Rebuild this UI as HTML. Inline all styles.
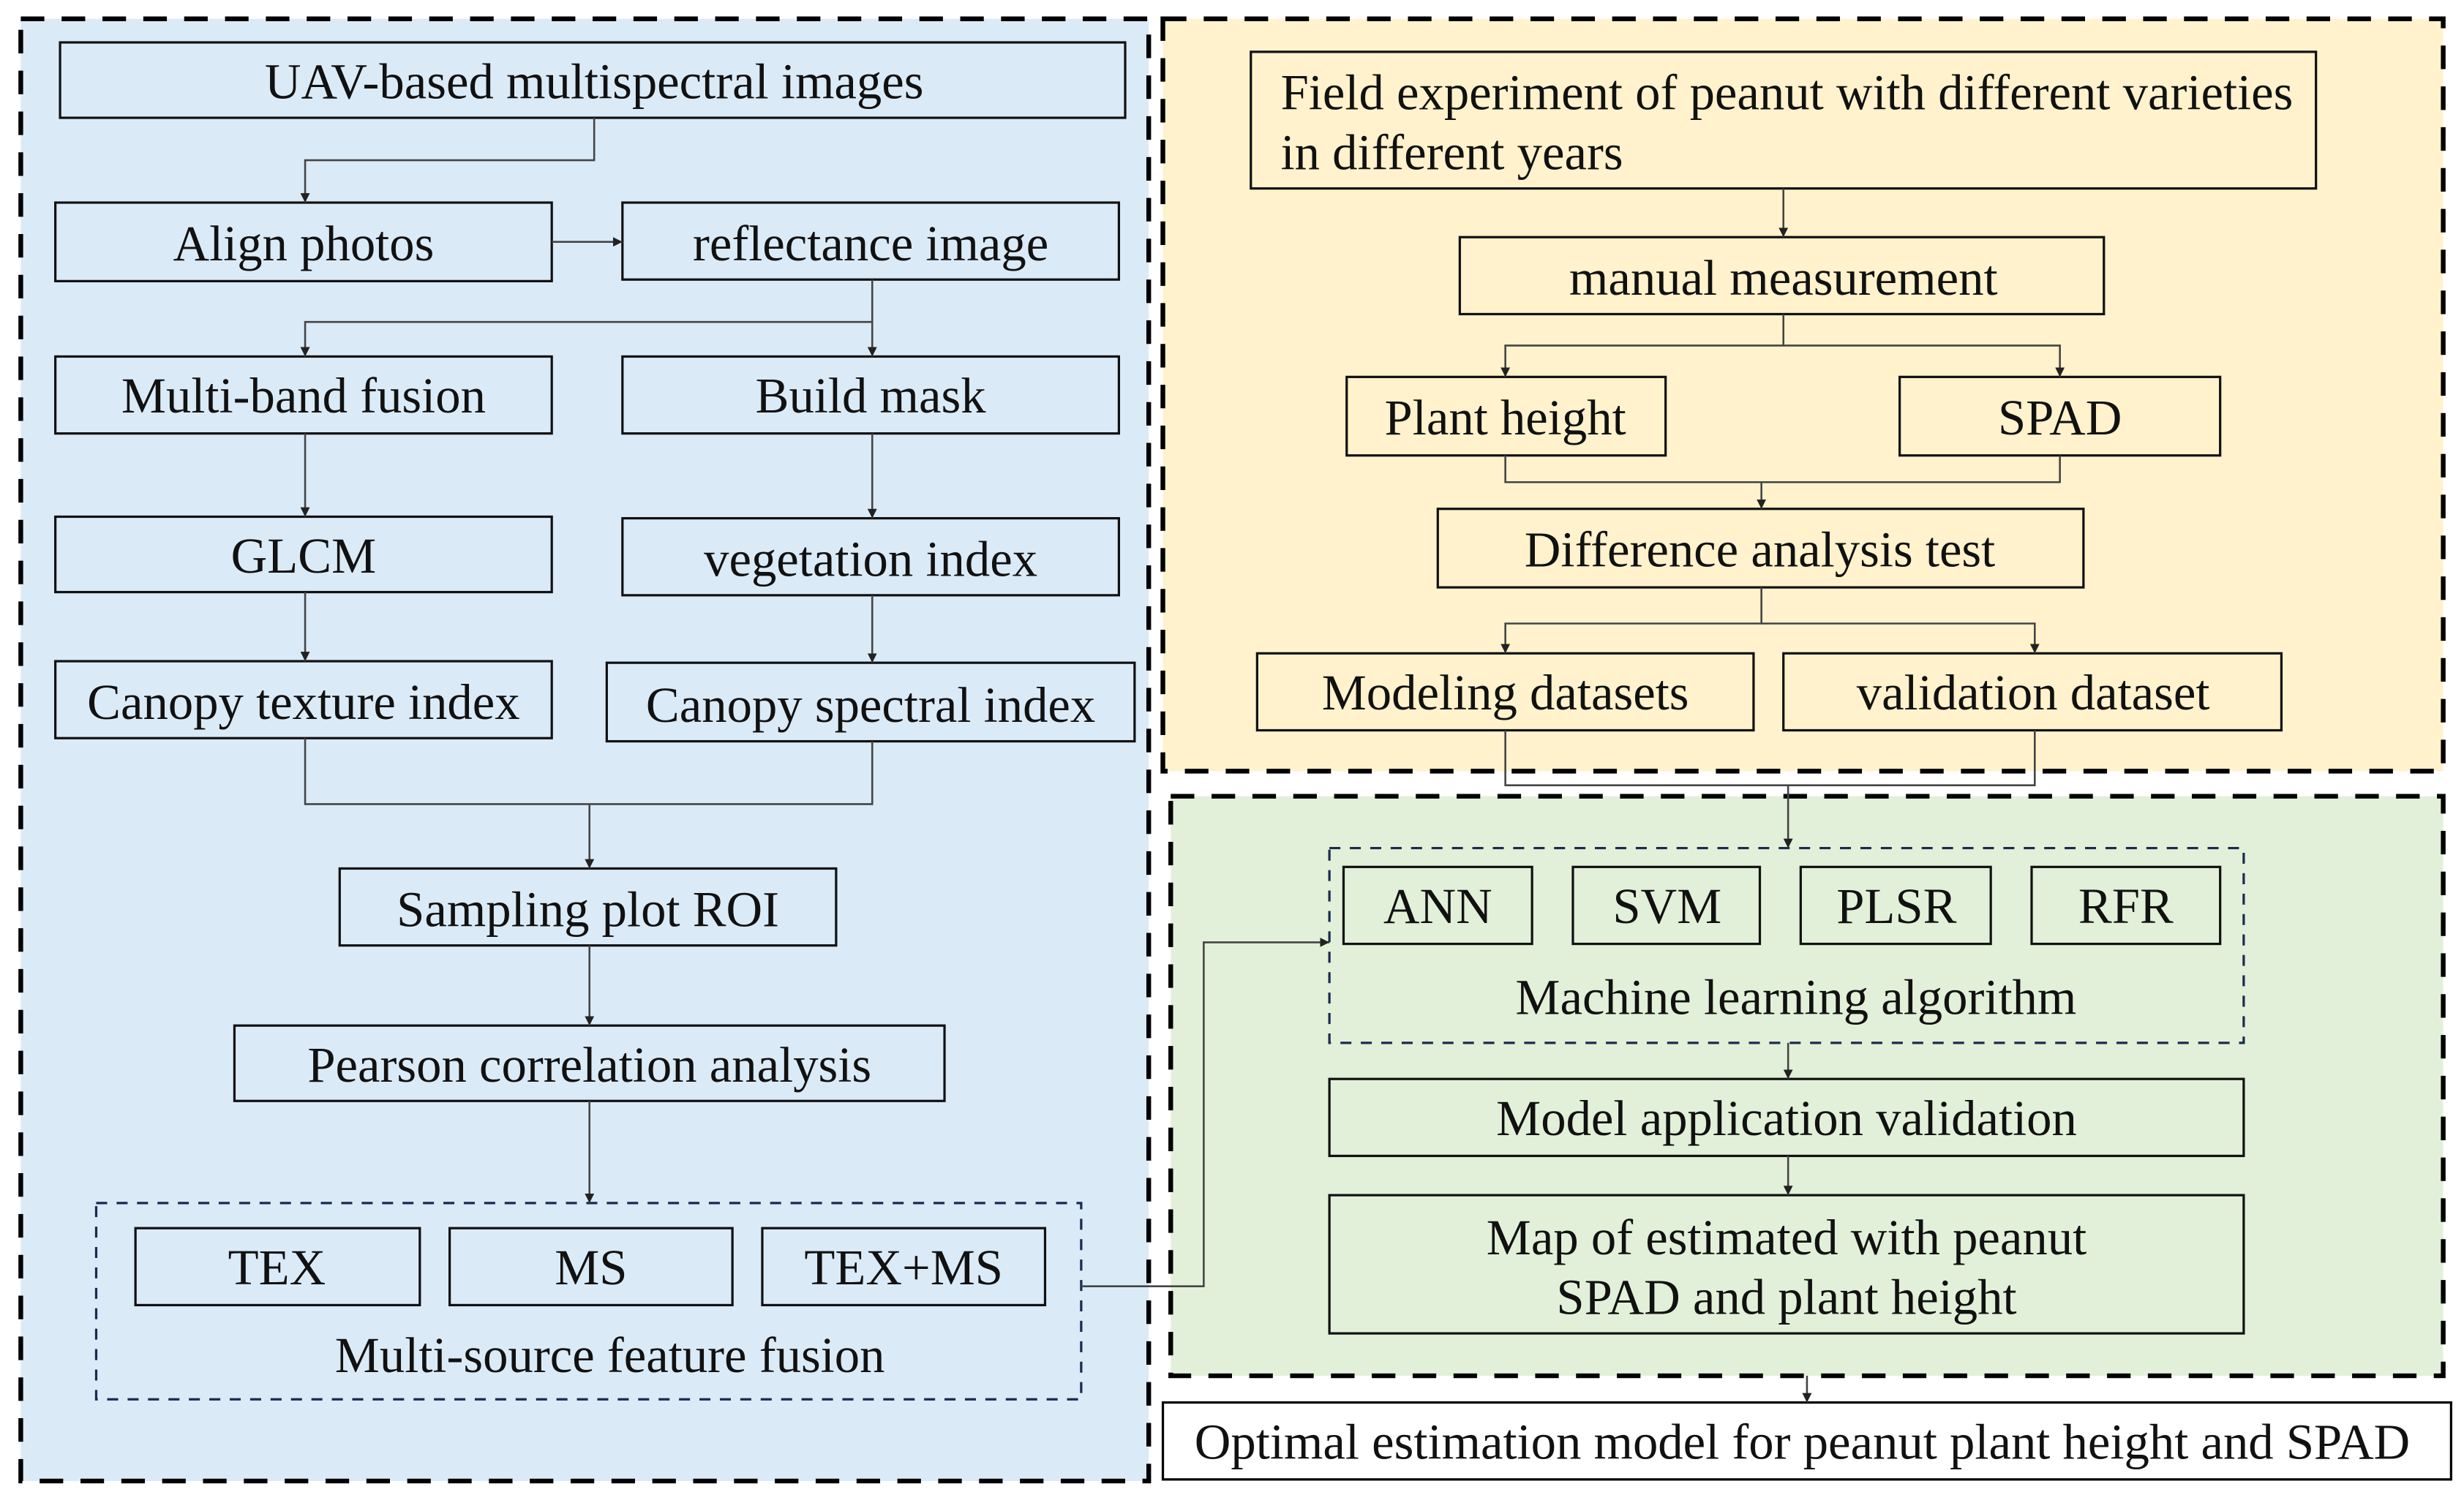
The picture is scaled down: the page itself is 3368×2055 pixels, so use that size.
<!DOCTYPE html>
<html><head><meta charset="utf-8"><style>html,body{margin:0;padding:0;background:#fff}svg{display:block}</style></head>
<body>
<svg width="3368" height="2055" viewBox="0 0 1568 957" xmlns="http://www.w3.org/2000/svg" font-family="'Liberation Serif', serif" font-size="32">
<defs><marker id="a" viewBox="0 0 10 10" refX="10" refY="5" markerWidth="5" markerHeight="5" orient="auto"><path d="M0,0L10,5L0,10z" fill="#222"/></marker></defs>
<rect x="13" y="12" width="718" height="931" fill="#dbeaf7" stroke="#000" stroke-width="3" stroke-dasharray="15 11"/>
<rect x="740" y="12" width="815" height="479" fill="#fff2cc" stroke="#000" stroke-width="3" stroke-dasharray="15 11"/>
<rect x="745" y="507" width="810" height="369" fill="#e2f0d9" stroke="#000" stroke-width="3" stroke-dasharray="15 11"/>
<rect x="740" y="893" width="820" height="49" fill="#fff" stroke="#000" stroke-width="1.5"/>
<g fill="none" stroke="#1a2a50" stroke-width="1.5" stroke-dasharray="7 6">
<rect x="61" y="766" width="627" height="125"/>
<rect x="846" y="540" width="582" height="124"/>
</g>
<g fill="none" stroke="#111" stroke-width="1.5">
<rect x="38" y="27" width="678" height="48"/>
<rect x="35" y="129" width="316" height="50"/>
<rect x="396" y="129" width="316" height="49"/>
<rect x="35" y="227" width="316" height="49"/>
<rect x="396" y="227" width="316" height="49"/>
<rect x="35" y="329" width="316" height="48"/>
<rect x="396" y="330" width="316" height="49"/>
<rect x="35" y="421" width="316" height="49"/>
<rect x="386" y="422" width="336" height="50"/>
<rect x="216" y="553" width="316" height="49"/>
<rect x="149" y="653" width="452" height="48"/>
<rect x="86" y="782" width="181" height="49"/>
<rect x="286" y="782" width="180" height="49"/>
<rect x="485" y="782" width="180" height="49"/>
<rect x="796" y="33" width="678" height="87"/>
<rect x="929" y="151" width="410" height="49"/>
<rect x="857" y="240" width="203" height="50"/>
<rect x="1209" y="240" width="204" height="50"/>
<rect x="915" y="324" width="411" height="50"/>
<rect x="800" y="416" width="316" height="49"/>
<rect x="1135" y="416" width="317" height="49"/>
<rect x="855" y="552" width="120" height="49"/>
<rect x="1001" y="552" width="119" height="49"/>
<rect x="1146" y="552" width="121" height="49"/>
<rect x="1293" y="552" width="120" height="49"/>
<rect x="846" y="687" width="582" height="49"/>
<rect x="846" y="761" width="582" height="88"/>
</g>
<g fill="none" stroke="#444" stroke-width="1.2">
<path d="M378 75V102H194V129" marker-end="url(#a)"/>
<path d="M351 154H396" marker-end="url(#a)"/>
<path d="M555 178V205H194V227" marker-end="url(#a)"/>
<path d="M555 205V227" marker-end="url(#a)"/>
<path d="M194 276V329" marker-end="url(#a)"/>
<path d="M555 276V330" marker-end="url(#a)"/>
<path d="M194 377V421" marker-end="url(#a)"/>
<path d="M555 379V422" marker-end="url(#a)"/>
<path d="M194 470V512H555V472"/>
<path d="M375 512V553" marker-end="url(#a)"/>
<path d="M375 602V653" marker-end="url(#a)"/>
<path d="M375 701V766" marker-end="url(#a)"/>
<path d="M688 819H766V600H846" marker-end="url(#a)"/>
<path d="M1135 120V151" marker-end="url(#a)"/>
<path d="M1135 200V220H958V240" marker-end="url(#a)"/>
<path d="M1135 220H1311V240" marker-end="url(#a)"/>
<path d="M958 290V307H1311V290"/>
<path d="M1121 307V324" marker-end="url(#a)"/>
<path d="M1121 374V397H958V416" marker-end="url(#a)"/>
<path d="M1121 397H1295V416" marker-end="url(#a)"/>
<path d="M958 465V500H1295V465"/>
<path d="M1138 500V540" marker-end="url(#a)"/>
<path d="M1138 664V687" marker-end="url(#a)"/>
<path d="M1138 736V761" marker-end="url(#a)"/>
<path d="M1150 876V893" marker-end="url(#a)"/>
</g>
<g fill="#111" text-anchor="middle" dominant-baseline="central">
<text x="378" y="52">UAV-based multispectral images</text>
<text x="193" y="155">Align photos</text>
<text x="554" y="155">reflectance image</text>
<text x="193" y="252">Multi-band fusion</text>
<text x="554" y="252">Build mask</text>
<text x="193" y="354">GLCM</text>
<text x="554" y="356">vegetation index</text>
<text x="193" y="447">Canopy texture index</text>
<text x="554" y="449">Canopy spectral index</text>
<text x="374" y="579">Sampling plot ROI</text>
<text x="375" y="678">Pearson correlation analysis</text>
<text x="176" y="807">TEX</text>
<text x="376" y="807">MS</text>
<text x="575" y="807">TEX+MS</text>
<text x="388" y="863">Multi-source feature fusion</text>
<text x="815" y="59" text-anchor="start">Field experiment of peanut with different varieties</text>
<text x="815" y="97" text-anchor="start">in different years</text>
<text x="1135" y="177">manual measurement</text>
<text x="958" y="266">Plant height</text>
<text x="1311" y="266">SPAD</text>
<text x="1120" y="350">Difference analysis test</text>
<text x="958" y="441">Modeling datasets</text>
<text x="1294" y="441">validation dataset</text>
<text x="915" y="577">ANN</text>
<text x="1061" y="577">SVM</text>
<text x="1207" y="577">PLSR</text>
<text x="1353" y="577">RFR</text>
<text x="1143" y="635">Machine learning algorithm</text>
<text x="1137" y="712">Model application validation</text>
<text x="1137" y="788">Map of estimated with peanut</text>
<text x="1137" y="826">SPAD and plant height</text>
<text x="1147" y="918">Optimal estimation model for peanut plant height and SPAD</text>
</g>
</svg>
</body></html>
